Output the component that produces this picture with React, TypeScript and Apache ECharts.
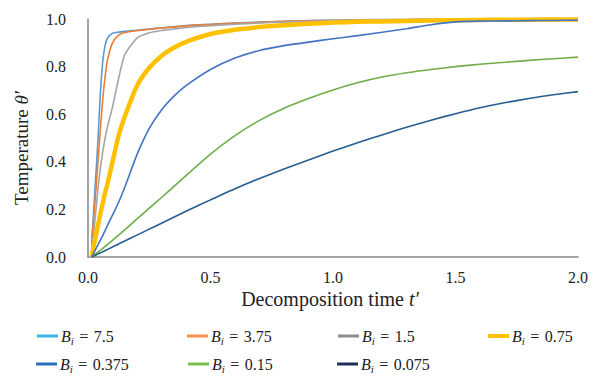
import React, { useEffect, useRef } from "react";
import * as echarts from "echarts";

const tValues = [0.015, 0.02, 0.03, 0.04, 0.05, 0.06, 0.07, 0.08, 0.1, 0.125, 0.15, 0.2, 0.25, 0.3, 0.35, 0.4, 0.5, 0.6, 0.7, 0.8, 0.9, 1.0, 1.1, 1.2, 1.3, 1.4, 1.5, 1.6, 1.7, 1.8, 1.9, 2.0];

const bi7_5 = [0.05, 0.14, 0.31, 0.48, 0.68, 0.82, 0.89, 0.92, 0.94, 0.945, 0.948, 0.953, 0.958, 0.963, 0.967, 0.972, 0.978, 0.983, 0.987, 0.99, 0.993, 0.995, 0.997, 0.998, 0.998, 0.999, 0.999, 0.999, 0.999, 0.999, 0.999, 0.999];
const bi3_75 = [0.08, 0.12, 0.25, 0.39, 0.53, 0.66, 0.76, 0.83, 0.9, 0.932, 0.943, 0.951, 0.957, 0.962, 0.966, 0.971, 0.977, 0.982, 0.986, 0.99, 0.992, 0.994, 0.996, 0.997, 0.998, 0.999, 0.999, 0.999, 0.999, 0.999, 0.999, 0.999];
const bi1_5 = [0.02, 0.07, 0.17, 0.28, 0.37, 0.44, 0.5, 0.55, 0.63, 0.75, 0.85, 0.92, 0.942, 0.952, 0.958, 0.964, 0.972, 0.978, 0.983, 0.987, 0.99, 0.993, 0.995, 0.996, 0.997, 0.998, 0.999, 0.999, 0.999, 0.999, 0.999, 0.999];
const bi0_75 = [0, 0.03, 0.08, 0.13, 0.18, 0.225, 0.27, 0.31, 0.4, 0.51, 0.59, 0.72, 0.795, 0.845, 0.879, 0.904, 0.937, 0.955, 0.966, 0.974, 0.98, 0.985, 0.988, 0.99, 0.992, 0.994, 0.995, 0.996, 0.997, 0.997, 0.998, 0.998];
const bi0_375 = [0, 0.01, 0.03, 0.05, 0.07, 0.09, 0.112, 0.134, 0.176, 0.23, 0.293, 0.43, 0.54, 0.618, 0.675, 0.72, 0.788, 0.836, 0.868, 0.888, 0.903, 0.917, 0.93, 0.944, 0.959, 0.976, 0.988, 0.991, 0.992, 0.993, 0.994, 0.995];
const bi0_15 = [0, 0.004, 0.012, 0.02, 0.028, 0.036, 0.045, 0.053, 0.07, 0.092, 0.114, 0.16, 0.205, 0.25, 0.296, 0.342, 0.432, 0.51, 0.574, 0.625, 0.666, 0.702, 0.732, 0.756, 0.774, 0.788, 0.8, 0.81, 0.818, 0.826, 0.833, 0.84];
const bi0_075 = [0, 0.002, 0.007, 0.012, 0.017, 0.022, 0.027, 0.032, 0.042, 0.055, 0.067, 0.092, 0.117, 0.142, 0.167, 0.192, 0.24, 0.287, 0.33, 0.37, 0.408, 0.445, 0.48, 0.513, 0.545, 0.575, 0.602, 0.627, 0.648, 0.666, 0.682, 0.695];

const biLabels = ["7.5", "3.75", "1.5", "0.75", "0.375", "0.15", "0.075"];
const seriesValues = [bi7_5, bi3_75, bi1_5, bi0_75, bi0_375, bi0_15, bi0_075];
const lineColors = ["#5B9BD5", "#ED7D31", "#A5A5A5", "#FFC000", "#4472C4", "#70AD47", "#255E91"];
const legendColors = ["#3DB4E8", "#F4914D", "#8C8C8C", "#FFC000", "#2E6DB4", "#7CC04C", "#1F2D5E"];
const lineWidths = [1.6, 1.6, 1.6, 4.5, 1.6, 1.6, 1.6];

const xTicks = [0, 0.5, 1.0, 1.5, 2.0];
const yTicks = [0, 0.2, 0.4, 0.6, 0.8, 1.0];

const legendPos = [
  [37, 328], [187, 328], [338, 328], [488, 328],
  [36, 356], [188, 356], [337, 356],
];

const SERIF = "Times New Roman, Liberation Serif, DejaVu Serif, serif";

export default function App() {
  const ref = useRef<HTMLDivElement>(null);
  useEffect(() => {
    if (!ref.current) return;
    const chart = echarts.init(ref.current, null, { renderer: "svg" });
    const names = biLabels.map((b) => "Bi = " + b);
    const legendRich = {
      b: { fontFamily: SERIF, fontStyle: "italic", fontSize: 16, color: "#222", lineHeight: 20 },
      s: { fontFamily: SERIF, fontStyle: "italic", fontSize: 11, color: "#222", lineHeight: 20, verticalAlign: "bottom" },
      e: { fontFamily: SERIF, fontSize: 16, color: "#222", lineHeight: 20, padding: [0, 1.5, 0, 1.5] },
      n: { fontFamily: SERIF, fontSize: 16, color: "#222", lineHeight: 20 },
    };
    const option: any = {
      animation: false,
      textStyle: { fontFamily: SERIF },
      grid: { left: 88, right: 9, top: 19, bottom: 119, containLabel: false },
      xAxis: {
        type: "value",
        min: 0,
        max: 2,
        interval: 0.5,
        axisLine: { show: true, lineStyle: { color: "#868686", width: 1.5 } },
        axisTick: { show: false },
        splitLine: { show: false },
        axisLabel: {
          margin: 12,
          fontFamily: SERIF,
          fontSize: 16,
          color: "#222",
          formatter: (v: number) => (xTicks.includes(v) ? v.toFixed(1) : ""),
        },
      },
      yAxis: {
        type: "value",
        min: 0,
        max: 1,
        interval: 0.2,
        axisLine: { show: true, lineStyle: { color: "#868686", width: 1.5 } },
        axisTick: { show: false },
        splitLine: { show: false },
        axisLabel: {
          margin: 22,
          fontFamily: SERIF,
          fontSize: 16,
          color: "#222",
          formatter: (v: number) => (yTicks.some((t) => Math.abs(t - v) < 1e-9) ? v.toFixed(1) : ""),
        },
      },
      legend: names.map((name, i) => ({
        show: true,
        left: legendPos[i][0],
        top: legendPos[i][1],
        padding: 0,
        icon: "rect",
        itemWidth: 21,
        itemHeight: i === 3 ? 4 : 3,
        data: [{ name, itemStyle: { color: legendColors[i] } }],
        formatter: () => "{b|B}{s|i}{e| = }{n|" + biLabels[i] + "}",
        textStyle: { fontFamily: SERIF, rich: legendRich, padding: [0, 0, 0, -2] },
      })),
      graphic: [
        {
          type: "text",
          x: 330,
          y: 299,
          style: {
            text: "{n|Decomposition time }{i|t′}",
            align: "center",
            verticalAlign: "middle",
            rich: {
              n: { fontFamily: SERIF, fontSize: 20, fill: "#222" },
              i: { fontFamily: SERIF, fontSize: 20, fontStyle: "italic", fill: "#222" },
            },
          },
        },
        {
          type: "text",
          x: 21,
          y: 148,
          rotation: Math.PI / 2,
          style: {
            text: "{n|Temperature }{i|θ′}",
            align: "center",
            verticalAlign: "middle",
            rich: {
              n: { fontFamily: SERIF, fontSize: 19, fill: "#222" },
              i: { fontFamily: SERIF, fontSize: 19, fontStyle: "italic", fill: "#222" },
            },
          },
        },
      ],
      series: names.map((name, i) => ({
        name,
        type: "line",
        showSymbol: false,
        smooth: 0.2,
        data: tValues.map((t, k) => [t, seriesValues[i][k]]),
        itemStyle: { color: legendColors[i] },
        lineStyle: { color: lineColors[i], width: lineWidths[i] },
        emphasis: { disabled: true },
      })),
    };
    chart.setOption(option);
    return () => chart.dispose();
  }, []);
  return <div ref={ref} style={{ width: 591, height: 376, position: "absolute", left: 0, top: 0 }} />;
}
